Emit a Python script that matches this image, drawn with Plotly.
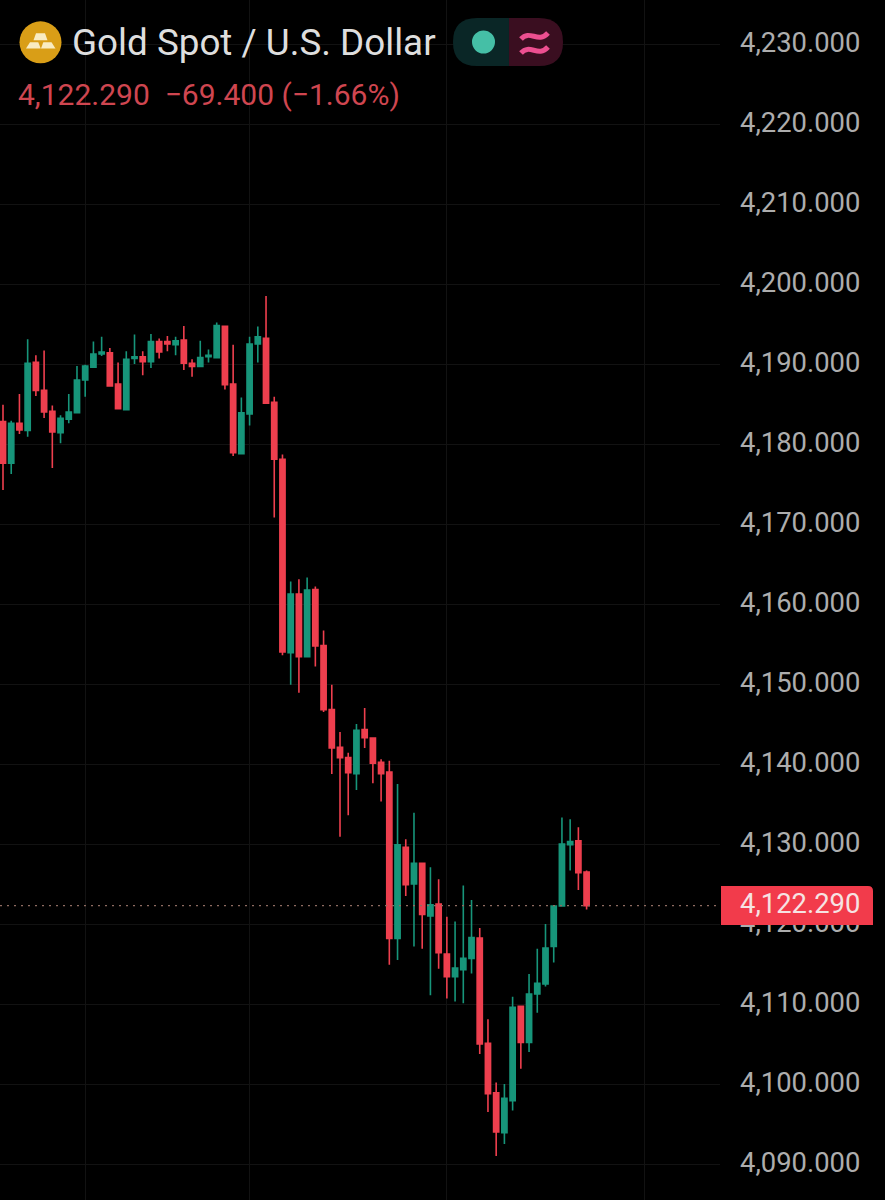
import plotly.graph_objects as go

# Gold spot candles, oldest first
opens = [4182.8, 4177.6, 4182.6, 4181.7, 4190.2, 4186.7, 4184.1, 4181.4, 4183.1, 4183.9, 4188.0, 4189.6,
         4191.25, 4191.4, 4187.5, 4184.3, 4190.7, 4190.9, 4190.3, 4192.8, 4192.8, 4192.4, 4193.0, 4190.1,
         4189.7, 4190.9, 4190.8, 4194.7, 4187.5, 4178.8, 4183.75, 4192.5, 4193.2, 4185.2, 4178.1, 4153.9,
         4161.25, 4153.4, 4161.8, 4154.8, 4146.8, 4142.1, 4140.8, 4138.8, 4144.3, 4143.25, 4140.2, 4139.0,
         4118.2, 4129.6, 4125.0, 4127.6, 4121.0, 4122.5, 4116.25, 4113.4, 4114.3, 4115.7, 4118.25, 4105.1,
         4098.9, 4093.9, 4097.9, 4109.7, 4105.2, 4111.25, 4112.5, 4117.2, 4122.25, 4129.9, 4130.4, 4126.5]
highs = [4184.9, 4182.9, 4186.25, 4193.1, 4191.1, 4191.7, 4184.8, 4183.6, 4186.25, 4189.75, 4189.9, 4192.8,
         4193.4, 4192.0, 4190.2, 4191.6, 4193.7, 4191.6, 4193.75, 4193.2, 4193.5, 4193.4, 4194.75, 4190.6,
         4192.9, 4191.8, 4195.2, 4194.75, 4192.4, 4185.8, 4193.4, 4194.7, 4198.5, 4185.9, 4178.7, 4162.8,
         4163.1, 4163.3, 4162.2, 4156.7, 4149.9, 4144.0, 4141.4, 4145.0, 4147.0, 4143.3, 4140.6, 4140.4,
         4137.5, 4130.6, 4133.9, 4127.6, 4127.1, 4125.6, 4120.9, 4120.3, 4124.8, 4123.0, 4119.5, 4108.1,
         4100.2, 4100.0, 4110.9, 4109.75, 4113.75, 4116.9, 4120.0, 4122.3, 4133.3, 4133.1, 4132.1, 4126.7]
lows = [4174.25, 4176.25, 4181.25, 4180.9, 4186.0, 4183.25, 4177.0, 4180.1, 4182.6, 4183.9, 4185.9, 4189.6,
        4191.0, 4187.25, 4184.3, 4184.2, 4190.0, 4188.6, 4189.5, 4190.7, 4191.6, 4191.1, 4189.25, 4188.4,
        4189.6, 4190.2, 4190.75, 4186.8, 4178.5, 4178.8, 4182.3, 4190.2, 4185.0, 4170.8, 4153.6, 4149.9,
        4148.9, 4153.4, 4152.2, 4146.5, 4138.75, 4130.9, 4133.6, 4136.75, 4142.0, 4137.6, 4135.3, 4114.9,
        4115.5, 4123.5, 4117.2, 4116.9, 4111.1, 4114.4, 4110.7, 4110.3, 4110.1, 4113.8, 4103.75, 4096.5,
        4091.0, 4092.5, 4096.7, 4101.9, 4104.0, 4108.9, 4112.2, 4115.2, 4122.25, 4126.7, 4124.25, 4121.8]
closes = [4177.6, 4182.6, 4181.75, 4190.1, 4186.7, 4184.0, 4181.5, 4183.2, 4184.0, 4188.0, 4189.75, 4191.25,
          4191.5, 4187.25, 4184.4, 4190.6, 4190.9, 4190.3, 4192.8, 4191.5, 4192.5, 4192.9, 4190.1, 4189.7,
          4190.8, 4191.1, 4194.8, 4187.4, 4178.9, 4183.9, 4192.5, 4193.4, 4185.1, 4178.1, 4154.0, 4161.25,
          4153.4, 4161.75, 4154.75, 4146.8, 4142.0, 4140.8, 4138.9, 4144.2, 4143.3, 4140.1, 4138.8, 4118.2,
          4129.9, 4124.9, 4127.6, 4121.2, 4122.4, 4116.4, 4113.4, 4114.5, 4115.7, 4118.3, 4105.0, 4098.8,
          4094.0, 4098.2, 4109.6, 4105.2, 4111.25, 4112.6, 4117.0, 4122.25, 4130.0, 4130.3, 4126.4, 4122.29]
sessions = list(range(len(closes)))

price_ticks = [4090, 4100, 4110, 4120, 4130, 4140, 4150, 4160, 4170, 4180, 4190, 4200, 4210, 4220, 4230]
session_breaks = [10, 30, 54, 78]
last_price = 4122.29
symbol_name = "Gold Spot / U.S. Dollar"
quote_line = "4,122.290\u00a0\u00a0\u221269.400 (\u22121.66%)"
last_price_label = f"{last_price:,.3f}"

UP = "#17957a"
DOWN = "#ee3f4e"
GRID = "#121212"
PANEL_W, PANEL_H = 720, 1200


def px(x):
    return x / PANEL_W


def py(y):
    return 1 - y / PANEL_H


def P(x, y):
    return f"{px(x):.5f},{py(y):.5f}"


def poly(points, fill):
    path = "M" + " L".join(P(x, y) for x, y in points) + " Z"
    return dict(type="path", xref="paper", yref="paper", path=path, fillcolor=fill,
                line=dict(width=0), layer="above")


def disc(cx, cy, r, fill):
    return dict(type="circle", xref="paper", yref="paper", x0=px(cx - r), x1=px(cx + r),
                y0=py(cy + r), y1=py(cy - r), fillcolor=fill, line=dict(width=0), layer="above")


fig = go.Figure(go.Candlestick(
    x=sessions, open=opens, high=highs, low=lows, close=closes,
    increasing=dict(line=dict(color=UP, width=1.6), fillcolor=UP),
    decreasing=dict(line=dict(color=DOWN, width=1.6), fillcolor=DOWN),
    whiskerwidth=0,
))

shapes = [
    # last price guide
    dict(type="line", xref="paper", yref="y", x0=0, x1=1, y0=last_price, y1=last_price,
         line=dict(color="#8f6c62", width=1.2, dash="2px,5px"), layer="above"),
    # last price tag, square on the axis side and rounded on the outer side
    dict(type="path", xref="paper", yref="paper", fillcolor="#f23b4b", line=dict(width=0), layer="above",
         path=f"M{P(721, 886)} L{P(868, 886)} Q{P(873, 886)} {P(873, 891)} L{P(873, 925)} "
              f"L{P(721, 925)} Z"),
    # round gold badge with three stacked bars
    disc(40.5, 42.3, 21, "#d99e17"),
    poly([(36, 33.3), (45, 33.3), (47.5, 40.3), (33.5, 40.3)], "#f9ecc2"),
    poly([(30, 42.3), (38.3, 42.3), (40.7, 48.5), (26, 48.5)], "#f9ecc2"),
    poly([(43.3, 42.3), (51.5, 42.3), (55.5, 48.5), (41, 48.5)], "#f9ecc2"),
    # market status pill
    dict(type="path", xref="paper", yref="paper", fillcolor="#0a2626", line=dict(width=0), layer="above",
         path=f"M{P(509, 18)} L{P(477, 18)} Q{P(453, 18)} {P(453, 42)} Q{P(453, 66)} {P(477, 66)} "
              f"L{P(509, 66)} Z"),
    dict(type="path", xref="paper", yref="paper", fillcolor="#3a0e20", line=dict(width=0), layer="above",
         path=f"M{P(509, 18)} L{P(539, 18)} Q{P(563, 18)} {P(563, 42)} Q{P(563, 66)} {P(539, 66)} "
              f"L{P(509, 66)} Z"),
    disc(483.5, 42, 11.5, "#45bfa6"),
]
# wavy double bar inside the pill
for offset in (36, 50):
    shapes.append(dict(
        type="path", xref="paper", yref="paper", line=dict(color="#ec4f90", width=5), layer="above",
        path=f"M{P(521, offset + 3)} C{P(530, offset - 7)} {P(538, offset + 8)} {P(548, offset - 3)}",
    ))

annotations = [
    dict(text=symbol_name, x=px(71), y=py(42), xref="paper", yref="paper", xanchor="left", yanchor="middle",
         showarrow=False, font=dict(family="Roboto", size=36.8, color="#dedede"), borderpad=0),
    dict(text=quote_line, x=px(17), y=py(95), xref="paper", yref="paper", xanchor="left", yanchor="middle",
         showarrow=False, font=dict(family="Roboto", size=30, color="#cf4650"), borderpad=0),
    dict(text=last_price_label, x=px(861), y=py(904), xref="paper", yref="paper", xanchor="right",
         yanchor="middle", showarrow=False, font=dict(family="Roboto", size=27.4, color="#f6e3e3"), borderpad=0),
]

fig.update_layout(
    width=885, height=1200, autosize=False,
    margin=dict(l=0, r=165, t=0, b=0),
    paper_bgcolor="#000000", plot_bgcolor="#000000",
    showlegend=False, boxgap=0.1,
    shapes=shapes, annotations=annotations,
    xaxis=dict(range=[-0.365, 87.23], rangeslider=dict(visible=False), tickmode="array",
               tickvals=session_breaks, showticklabels=False, ticks="", gridcolor=GRID, gridwidth=1,
               zeroline=False, showline=False),
    yaxis=dict(range=[4085.5, 4235.5], side="right", tickmode="array", tickvals=price_ticks,
               tickformat=",.3f", tickfont=dict(family="Roboto", size=27.4, color="#adadad"),
               ticks="", ticklabelstandoff=19, ticklabelshift=-2, gridcolor=GRID, gridwidth=1,
               zeroline=False, showline=False),
)

fig.write_html("out.html")
